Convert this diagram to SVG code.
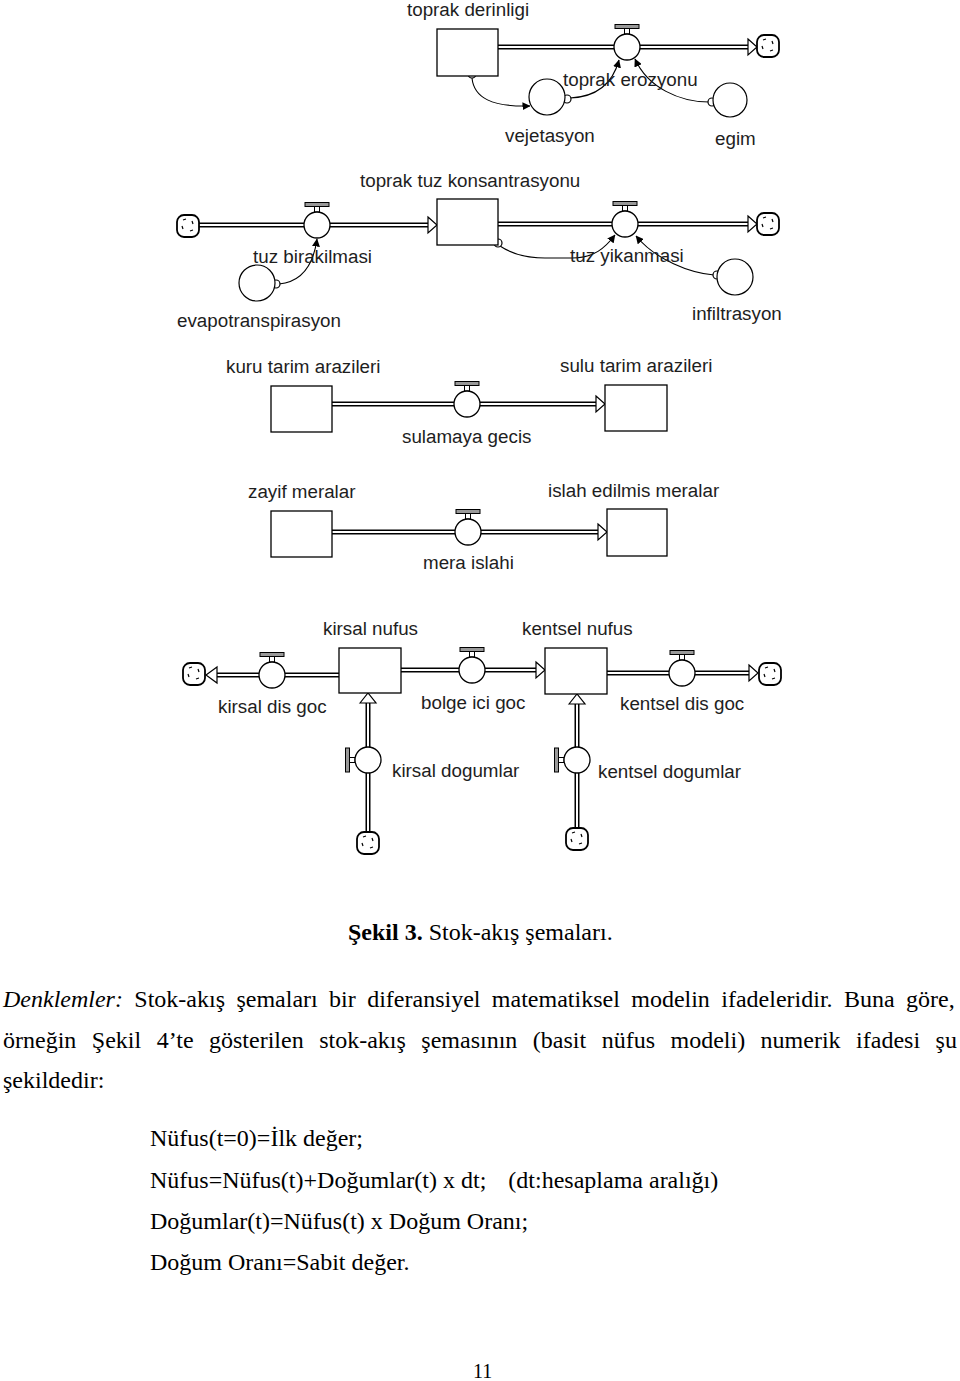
<svg xmlns="http://www.w3.org/2000/svg" width="960" height="1381" viewBox="0 0 960 1381">
<style>
.bg{fill:#fff}
.po{stroke:#000;stroke-width:5;fill:none}
.pi{stroke:#fff;stroke-width:2;fill:none}
.ph{fill:#fff;stroke:#000;stroke-width:1.2}
.box{fill:#fff;stroke:#000;stroke-width:1.3}
.aux{fill:#fff;stroke:#000;stroke-width:1.2}
.org{fill:#fff;stroke:#000;stroke-width:1.2}
.link{fill:none;stroke:#000;stroke-width:1.1}
.lbl{font-family:"Liberation Sans",Arial,sans-serif;font-size:18.8px;fill:#1e1e1e}
.txt{font-family:"Liberation Serif","Times New Roman",serif;font-size:24px;fill:#000}
</style>
<defs>
<marker id="ah" viewBox="0 0 8 8" refX="7.5" refY="4" markerWidth="8" markerHeight="8" markerUnits="userSpaceOnUse" orient="auto"><path d="M0,0 L8,4 L0,8 z" fill="#000"/></marker>
<g id="valve"><rect x="-2.5" y="-19" width="5" height="6" fill="#fff" stroke="#000" stroke-width="1"/><rect x="-12" y="-22.5" width="24" height="4" fill="#999" stroke="#000" stroke-width="1"/><circle r="13" fill="#fff" stroke="#000" stroke-width="1.3"/></g>
<g id="cloud"><rect x="-11" y="-11" width="22" height="22" rx="7" fill="#fff" stroke="#000" stroke-width="1.8"/><path d="M-5,-6 l3,-1 M4,-5 l1,3 M5,4 l-3,1 M-5,3 l-1,-3" stroke="#000" stroke-width="1.2" fill="none"/></g>
</defs>
<rect class="bg" x="0" y="0" width="960" height="1381"/>

<g id="connectors">
  <path class="po" d="M498,47 H748 M199,225 H428 M498,224 H748 M332,404 H596 M332,532 H598 M217,675 H339 M401,670 H536 M607,673 H749 M368,703 V832 M577,704 V829"/>
  <path class="pi" d="M498,47 H749 M198,225 H429 M498,224 H749 M332,404 H597 M332,532 H599 M216,675 H339 M401,670 H537 M607,673 H750 M368,702 V833 M577,703 V830"/>
  <polygon class="ph" points="748,39 757,47 748,55"/>
  <polygon class="ph" points="428,217 437,225 428,233"/>
  <polygon class="ph" points="748,216 757,224 748,232"/>
  <polygon class="ph" points="596,396 605,404 596,412"/>
  <polygon class="ph" points="598,524 607,532 598,540"/>
  <polygon class="ph" points="217,667 206,675 217,683"/>
  <polygon class="ph" points="536,662 545,670 536,678"/>
  <polygon class="ph" points="749,665 758,673 749,681"/>
  <polygon class="ph" points="360,703 368,693 376,703"/>
  <polygon class="ph" points="569,704 577,694 585,704"/>
  <path class="link" marker-end="url(#ah)" d="M472,78 C474,98 492,107 530,106"/>
  <path class="link" marker-end="url(#ah)" d="M570,98 C595,97 612,86 619,60"/>
  <path class="link" marker-end="url(#ah)" d="M709,102 C680,102 648,88 635,59"/>
  <path class="link" marker-end="url(#ah)" d="M279,284 C300,282 313,268 317,239"/>
  <path class="link" marker-end="url(#ah)" d="M500,246 C512,254 525,258 545,258 L572,258 C594,258 605,248 615,235"/>
  <path class="link" marker-end="url(#ah)" d="M714,275 C690,273 656,260 636,236"/>
  <circle class="org" cx="472" cy="74" r="4"/>
  <circle class="org" cx="567" cy="99" r="4"/>
  <circle class="org" cx="712" cy="102" r="4"/>
  <circle class="org" cx="276" cy="284" r="4"/>
  <circle class="org" cx="498" cy="243" r="4"/>
  <circle class="org" cx="717" cy="275" r="4"/>
</g>

<g id="toprak-derinligi"><rect class="box" x="437" y="29" width="61" height="47"/><text class="lbl" x="407" y="16">toprak derinligi</text></g>
<g id="toprak-erozyonu"><use href="#valve" x="627" y="47"/><text class="lbl" x="563" y="86">toprak erozyonu</text></g>
<g id="cloud-1"><use href="#cloud" x="768" y="46"/></g>
<g id="vejetasyon"><circle class="aux" cx="547" cy="97" r="18"/><text class="lbl" x="505" y="142">vejetasyon</text></g>
<g id="egim"><circle class="aux" cx="730" cy="100" r="17"/><text class="lbl" x="715" y="145">egim</text></g>

<g id="cloud-2"><use href="#cloud" x="188" y="226"/></g>
<g id="tuz-birakilmasi"><use href="#valve" x="317" y="225"/><text class="lbl" x="253" y="263">tuz birakilmasi</text></g>
<g id="toprak-tuz-konsantrasyonu"><rect class="box" x="437" y="199" width="61" height="46"/><text class="lbl" x="360" y="187">toprak tuz konsantrasyonu</text></g>
<g id="tuz-yikanmasi"><use href="#valve" x="625" y="224"/><text class="lbl" x="570" y="262">tuz yikanmasi</text></g>
<g id="cloud-3"><use href="#cloud" x="768" y="224"/></g>
<g id="evapotranspirasyon"><circle class="aux" cx="257" cy="283" r="18"/><text class="lbl" x="177" y="327">evapotranspirasyon</text></g>
<g id="infiltrasyon"><circle class="aux" cx="735" cy="277" r="18"/><text class="lbl" x="692" y="320">infiltrasyon</text></g>

<g id="kuru-tarim-arazileri"><rect class="box" x="271" y="386" width="61" height="46"/><text class="lbl" x="226" y="373">kuru tarim arazileri</text></g>
<g id="sulamaya-gecis"><use href="#valve" x="467" y="404"/><text class="lbl" x="402" y="443">sulamaya gecis</text></g>
<g id="sulu-tarim-arazileri"><rect class="box" x="605" y="385" width="62" height="46"/><text class="lbl" x="560" y="372">sulu tarim arazileri</text></g>

<g id="zayif-meralar"><rect class="box" x="271" y="511" width="61" height="46"/><text class="lbl" x="248" y="498">zayif meralar</text></g>
<g id="mera-islahi"><use href="#valve" x="468" y="532"/><text class="lbl" x="423" y="569">mera islahi</text></g>
<g id="islah-edilmis-meralar"><rect class="box" x="607" y="509" width="60" height="47"/><text class="lbl" x="548" y="497">islah edilmis meralar</text></g>

<g id="cloud-4"><use href="#cloud" x="194" y="674"/></g>
<g id="kirsal-dis-goc"><use href="#valve" x="272" y="675"/><text class="lbl" x="218" y="713">kirsal dis goc</text></g>
<g id="kirsal-nufus"><rect class="box" x="339" y="648" width="62" height="45"/><text class="lbl" x="323" y="635">kirsal nufus</text></g>
<g id="bolge-ici-goc"><use href="#valve" x="472" y="670"/><text class="lbl" x="421" y="709">bolge ici goc</text></g>
<g id="kentsel-nufus"><rect class="box" x="545" y="648" width="62" height="46"/><text class="lbl" x="522" y="635">kentsel nufus</text></g>
<g id="kentsel-dis-goc"><use href="#valve" x="682" y="673"/><text class="lbl" x="620" y="710">kentsel dis goc</text></g>
<g id="cloud-5"><use href="#cloud" x="770" y="674"/></g>
<g id="kirsal-dogumlar"><use href="#valve" transform="translate(368,760) rotate(-90)"/><text class="lbl" x="392" y="777">kirsal dogumlar</text></g>
<g id="cloud-6"><use href="#cloud" x="368" y="843"/></g>
<g id="kentsel-dogumlar"><use href="#valve" transform="translate(577,760) rotate(-90)"/><text class="lbl" x="598" y="778">kentsel dogumlar</text></g>
<g id="cloud-7"><use href="#cloud" x="577" y="839"/></g>

<g id="caption"><text class="txt" x="348" y="940"><tspan font-weight="bold">Şekil 3.</tspan> Stok-akış şemaları.</text></g>
<g id="paragraph">
<text class="txt" x="3" y="1007" word-spacing="5.4"><tspan font-style="italic">Denklemler:</tspan> Stok-akış şemaları bir diferansiyel matematiksel modelin ifadeleridir. Buna göre,</text>
<text class="txt" x="3" y="1048" word-spacing="9.5">örneğin Şekil 4’te gösterilen stok-akış şemasının (basit nüfus modeli) numerik ifadesi şu</text>
<text class="txt" x="3" y="1088">şekildedir:</text>
</g>
<g id="equations">
<text class="txt" x="150" y="1146">Nüfus(t=0)=İlk değer;</text>
<text class="txt" x="150" y="1188" style="white-space:pre">Nüfus=Nüfus(t)+Doğumlar(t) x dt;  <tspan dx="10">(dt:hesaplama aralığı)</tspan></text>
<text class="txt" x="150" y="1229">Doğumlar(t)=Nüfus(t) x Doğum Oranı;</text>
<text class="txt" x="150" y="1270">Doğum Oranı=Sabit değer.</text>
</g>
<g id="page-number"><text class="txt" x="473" y="1378" style="font-size:20px">11</text></g>
</svg>
